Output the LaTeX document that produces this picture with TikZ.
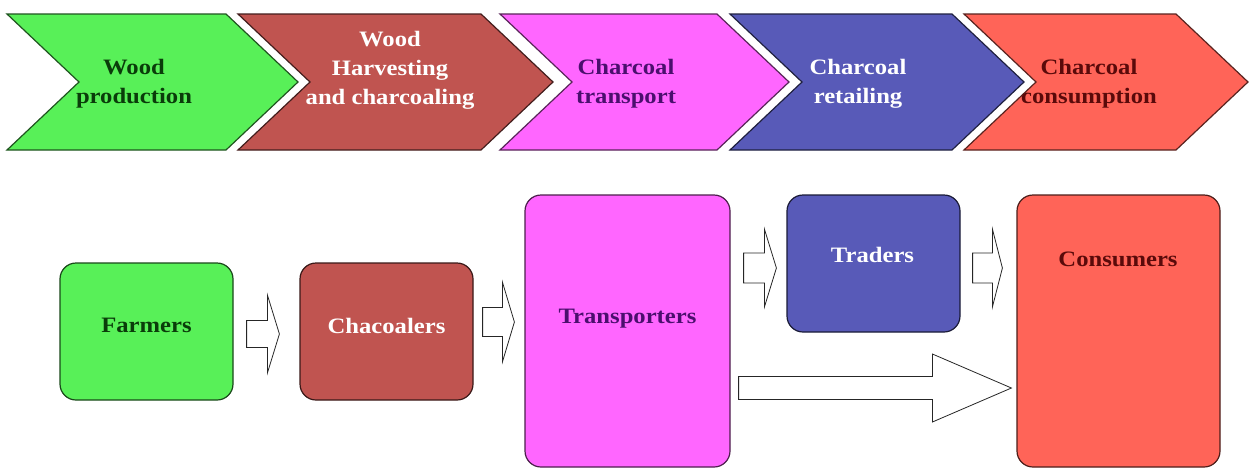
\documentclass[tikz,border=0pt]{standalone}
\usepackage{fontspec}
\setmainfont{Liberation Serif}[FakeStretch=1.12]
\usetikzlibrary{calc}
\definecolor{cgreen}{RGB}{88,240,88}
\definecolor{cbrown}{RGB}{192,84,80}
\definecolor{cmag}{RGB}{255,102,255}
\definecolor{cblue}{RGB}{88,90,184}
\definecolor{cred}{RGB}{255,100,88}
\definecolor{tgreen}{RGB}{10,60,10}
\definecolor{tpurple}{RGB}{75,15,110}
\definecolor{tred}{RGB}{90,10,10}
\tikzset{
  chevshape/.style={line width=1.2pt, line join=miter},
  chevtext/.style={font=\fontsize{22}{29}\selectfont\bfseries, align=center, inner sep=0pt},
  boxnode/.style={draw, line width=1.2pt, rounded corners=16pt, inner sep=0pt},
  boxtext/.style={font=\fontsize{22}{29}\selectfont\bfseries, inner sep=0pt, anchor=base},
  blk/.style={draw=black!85, fill=white, line width=0.8pt, line join=miter},
}
% chevron: left x, right x, fill colour
\newcommand\chevron[3]{%
  \filldraw[chevshape, fill=#3, draw=#3!35!black]
    (#1,14) -- (#2,14) -- ({#2+72},82) -- (#2,150) -- (#1,150) -- ({#1+72},82) -- cycle;}
% block arrow: start coordinate, tip coordinate, shaft half width, head half width, head length
\newcommand\blockarrow[5]{%
  \draw[blk] let \p1=(#1), \p2=(#2) in
    (\x1,{\y1+#3pt}) -- ({\x2-#5pt},{\y1+#3pt}) -- ({\x2-#5pt},{\y1+#4pt}) -- (\x2,\y1)
    -- ({\x2-#5pt},{\y1-#4pt}) -- ({\x2-#5pt},{\y1-#3pt}) -- (\x1,{\y1-#3pt}) -- cycle;}
\begin{document}
\begin{tikzpicture}[x=1pt, y=-1pt]
\useasboundingbox (0,0) rectangle (1250,472);
\fill[white] (0,0) rectangle (1250,472);

% top chevrons
\chevron{7}{226}{cgreen}
\chevron{238}{481}{cbrown}
\chevron{500}{717}{cmag}
\chevron{730}{952}{cblue}
\chevron{964}{1176}{cred}

\node[chevtext, text=tgreen] (stage1) at (134,84) {Wood\\production};
\node[chevtext, text=white] (stage2) at (390,70) {Wood\\Harvesting\\and charcoaling};
\node[chevtext, text=tpurple] (stage3) at (626,84) {Charcoal\\transport};
\node[chevtext, text=white] (stage4) at (858,84) {Charcoal\\retailing};
\node[chevtext, text=tred] (stage5) at (1089,84) {Charcoal\\consumption};

% bottom boxes
\node[boxnode, fill=cgreen, draw=cgreen!30!black, minimum width=173pt, minimum height=137pt] (farmers) at (146.5,331.5) {};
\node[boxnode, fill=cbrown, draw=cbrown!30!black, minimum width=173pt, minimum height=137pt] (chacoalers) at (386.5,331.5) {};
\node[boxnode, fill=cmag, draw=cmag!30!black, minimum width=205pt, minimum height=272pt] (transporters) at (627.5,331) {};
\node[boxnode, fill=cblue, draw=cblue!30!black, minimum width=173pt, minimum height=137pt] (traders) at (873.5,263.5) {};
\node[boxnode, fill=cred, draw=cred!30!black, minimum width=203pt, minimum height=272pt] (consumers) at (1118.5,331) {};

\node[boxtext, text=tgreen] (farmers-t) at (146.5,332) {Farmers};
\node[boxtext, text=white] (chacoalers-t) at (386.5,333) {Chacoalers};
\node[boxtext, text=tpurple] (transporters-t) at (627.5,323) {Transporters};
\node[boxtext, text=white] (traders-t) at (872.5,262) {Traders};
\node[boxtext, text=tred] (consumers-t) at (1118,266) {Consumers};

% block arrows
\coordinate (a1s) at ([xshift=13pt, yshift=-2.5pt]farmers.east);
\coordinate (a1e) at ([xshift=-20pt]chacoalers.west);
\blockarrow{a1s}{a1e}{13.5}{39}{12}
\coordinate (a2s) at ([xshift=9pt, yshift=9.5pt]chacoalers.east);
\coordinate (a2e) at ([xshift=-10pt]transporters.west);
\blockarrow{a2s}{a2e}{14.5}{40}{12}
\coordinate (a3s) at ([xshift=13pt, yshift=-4.5pt]transporters.east |- traders.east);
\coordinate (a3e) at ([xshift=-10pt]traders.west);
\blockarrow{a3s}{a3e}{15}{39}{12}
\coordinate (a4s) at ([xshift=12pt, yshift=-4.5pt]traders.east);
\coordinate (a4e) at ([xshift=-14pt]consumers.west);
\blockarrow{a4s}{a4e}{15}{39}{10}
\coordinate (a5s) at ([xshift=8pt, yshift=-57pt]transporters.east);
\coordinate (a5e) at ([xshift=-5pt]consumers.west);
\blockarrow{a5s}{a5e}{11.5}{34}{79}
\end{tikzpicture}
\end{document}
